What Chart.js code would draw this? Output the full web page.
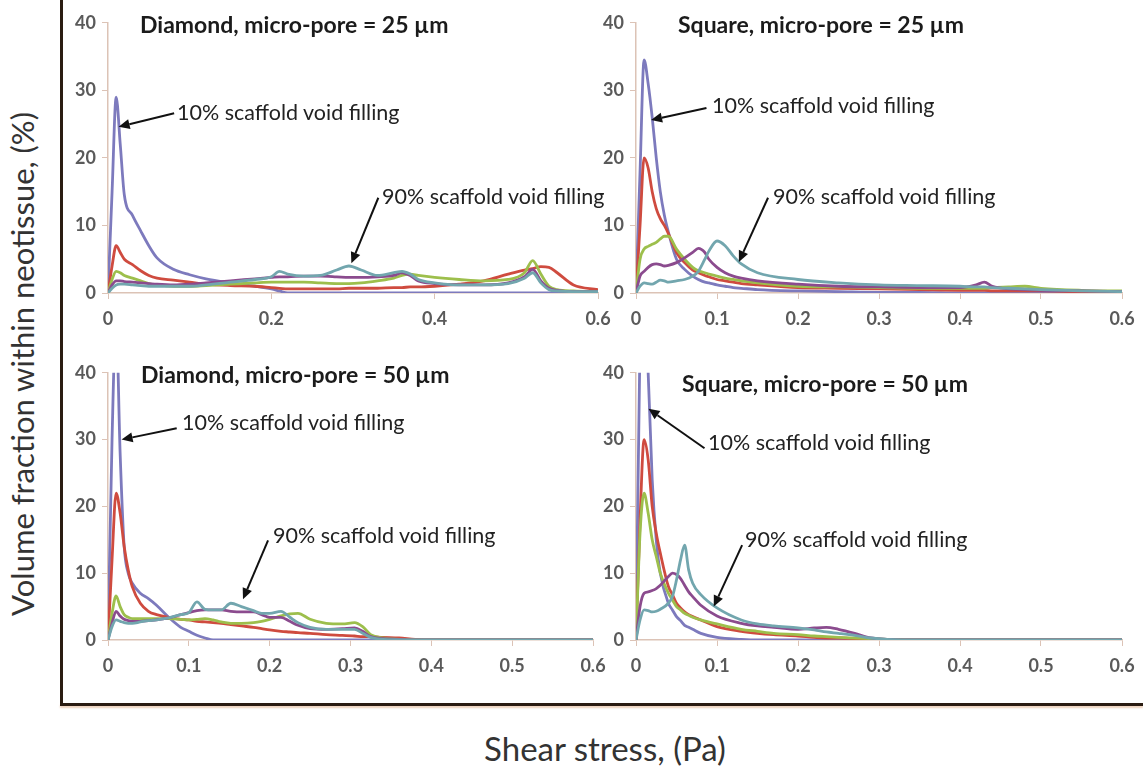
<!DOCTYPE html>
<html>
<head>
<meta charset="utf-8">
<script src="https://cdn.jsdelivr.net/npm/chart.js@4.4.1/dist/chart.umd.min.js"></script>
<style>
  body { margin: 0; background: #fff; }
  #stage { position: relative; width: 1143px; height: 770px; overflow: hidden; font-family: Lato, 'Open Sans', sans-serif; }
  .panel { position: absolute; }
  .ttl { position: absolute; font-weight: bold; font-size: 23px; color: #1b1b1b; white-space: nowrap; line-height: 1; transform: translateY(-50%); }
  .note { position: absolute; font-size: 21.5px; color: #222; white-space: nowrap; line-height: 1; transform: translateY(-50%); }
  .frameV { position: absolute; left: 60px; top: 0; width: 3px; height: 706px; background: #2a1c12; }
  .frameH { position: absolute; left: 60px; top: 703px; width: 1083px; height: 3px; background: #2a1c12; box-shadow: 0 2px 2px rgba(200,120,60,0.35); }
  .ytitle { position: absolute; left: 22px; top: 364px; line-height: 1; transform: translate(-50%, -50%) rotate(-90deg); font-size: 31px; color: #333; white-space: nowrap; }
  .xtitle { position: absolute; left: 605px; top: 748px; line-height: 1; transform: translate(-50%, -50%); font-size: 33px; color: #333; white-space: nowrap; }
</style>
</head>
<body>
<div id="stage">
  <div class="frameV"></div>
  <div class="frameH"></div>
  <div class="ytitle">Volume fraction within neotissue, (%)</div>
  <div class="xtitle">Shear stress, (Pa)</div>
</div>
<script>
// series: 10%, 30%, 50%, 70%, 90% scaffold void filling
const seriesColors = ['#7d7abd', '#cf4b3f', '#9dbf4c', '#8b4b8e', '#72a6ae'];
const yTicks = [0, 10, 20, 30, 40];

// --- Diamond, micro-pore = 25 um ---
const dia25X     = [0, 0.005, 0.01, 0.015, 0.02, 0.03, 0.04, 0.05, 0.06, 0.08, 0.1, 0.12, 0.15, 0.18, 0.2, 0.21, 0.22, 0.24, 0.26, 0.28, 0.295, 0.31, 0.33, 0.35, 0.36, 0.37, 0.38, 0.4, 0.43, 0.46, 0.49, 0.51, 0.52, 0.53, 0.54, 0.55, 0.57, 0.6];
const dia25Fill10 = [0, 15, 29, 22, 14.5, 11.5, 9.2, 7, 5.2, 3.5, 2.7, 2.1, 1.5, 1.0, 0.6, 0.3, 0, 0, 0, 0, 0, 0, 0, 0, 0, 0, 0, 0, 0, 0, 0, 0, 0, 0, 0, 0, 0, 0];
const dia25Fill30 = [0, 4, 7, 6, 5, 4.2, 3.3, 2.6, 2.2, 1.9, 1.6, 1.3, 1.1, 1.0, 0.8, 0.7, 0.6, 0.6, 0.6, 0.6, 0.7, 0.7, 0.7, 0.8, 0.8, 0.9, 0.9, 1.0, 1.3, 1.8, 2.8, 3.4, 3.6, 3.9, 3.8, 3.0, 1.2, 0.5];
const dia25Fill50 = [0, 2, 3.2, 3, 2.6, 2.2, 1.8, 1.4, 1.2, 1.0, 1.0, 1.1, 1.3, 1.5, 1.6, 1.6, 1.6, 1.6, 1.5, 1.4, 1.4, 1.5, 1.8, 2.2, 2.6, 2.8, 2.6, 2.3, 2.0, 1.8, 2.0, 3.0, 4.8, 2.8, 1.0, 0.5, 0.3, 0.2];
const dia25Fill70 = [0, 1.2, 1.8, 1.8, 1.7, 1.6, 1.5, 1.4, 1.3, 1.2, 1.3, 1.5, 1.8, 2.1, 2.3, 2.4, 2.4, 2.5, 2.5, 2.4, 2.3, 2.3, 2.4, 2.6, 3.0, 2.6, 1.8, 1.4, 1.2, 1.2, 1.5, 2.4, 3.5, 1.8, 0.7, 0.4, 0.2, 0.2];
const dia25Fill90 = [0, 0.7, 1.2, 1.3, 1.3, 1.2, 1.1, 1.0, 1.0, 1.0, 1.0, 1.2, 1.6, 2.0, 2.4, 3.2, 2.8, 2.5, 2.6, 3.4, 4.0, 3.4, 2.6, 3.0, 3.2, 2.8, 2.0, 1.5, 1.2, 1.2, 1.4, 2.2, 3.0, 1.5, 0.5, 0.3, 0.2, 0.2];

// --- Square, micro-pore = 25 um ---
const sq25X      = [0, 0.005, 0.01, 0.015, 0.02, 0.025, 0.03, 0.035, 0.04, 0.05, 0.06, 0.07, 0.077, 0.085, 0.09, 0.1, 0.11, 0.12, 0.13, 0.15, 0.2, 0.25, 0.3, 0.35, 0.4, 0.42, 0.43, 0.44, 0.46, 0.48, 0.5, 0.55, 0.6];
const sq25Fill10 = [0, 18, 34.5, 31, 26, 20, 15, 11.5, 9, 5, 3.5, 2.5, 2, 1.6, 1.5, 1.2, 1.0, 0.8, 0.7, 0.5, 0.3, 0.2, 0.1, 0.1, 0, 0, 0, 0, 0, 0, 0, 0, 0];
const sq25Fill30 = [0, 10, 20, 18.5, 15, 12.5, 11, 10, 8.8, 6, 4.5, 3.4, 3, 2.6, 2.4, 2, 1.8, 1.6, 1.4, 1.2, 0.8, 0.7, 0.6, 0.5, 0.4, 0.4, 0.4, 0.3, 0.3, 0.3, 0.3, 0.2, 0.2];
const sq25Fill50 = [0, 5, 6.5, 6.9, 7.2, 7.5, 8, 8.4, 8.4, 6.5, 5, 3.8, 3.3, 3, 2.8, 2.5, 2.2, 2, 1.8, 1.5, 1.0, 0.9, 0.8, 0.7, 0.7, 0.7, 0.7, 0.8, 0.9, 1.0, 0.7, 0.4, 0.3];
const sq25Fill70 = [0, 2.5, 3.2, 3.8, 4.2, 4.3, 4.2, 4.0, 4.1, 4.5, 5.2, 6.0, 6.6, 6.0, 5, 3.8, 3.0, 2.5, 2.2, 1.8, 1.3, 1.0, 0.9, 0.8, 0.8, 1.2, 1.6, 1.0, 0.6, 0.5, 0.4, 0.3, 0.2];
const sq25Fill90 = [0, 1.0, 1.5, 1.4, 1.3, 1.6, 1.9, 1.8, 1.6, 1.8, 2.0, 2.5, 3.2, 5, 6.2, 7.7, 7.0, 5.5, 4.3, 3.0, 2.0, 1.5, 1.2, 1.1, 1.0, 0.9, 0.9, 0.8, 0.7, 0.6, 0.5, 0.3, 0.2];

// --- Diamond, micro-pore = 50 um ---
const dia50X      = [0, 0.005, 0.01, 0.015, 0.02, 0.025, 0.03, 0.04, 0.05, 0.06, 0.075, 0.09, 0.1, 0.11, 0.12, 0.13, 0.14, 0.152, 0.165, 0.18, 0.19, 0.2, 0.214, 0.225, 0.235, 0.25, 0.27, 0.29, 0.305, 0.315, 0.325, 0.34, 0.36, 0.38, 0.4, 0.6];
const dia50Fill10 = [0, 30, 48, 28, 14, 10, 8.5, 7, 6.2, 5.2, 3.4, 1.9, 1.3, 0.7, 0.3, 0, 0, 0, 0, 0, 0, 0, 0, 0, 0, 0, 0, 0, 0, 0, 0, 0, 0, 0, 0, 0];
const dia50Fill30 = [0, 12, 22, 19, 14, 10.5, 8, 5.5, 4.3, 3.8, 3.4, 3.1, 3.0, 2.8, 2.7, 2.6, 2.5, 2.3, 2.1, 1.9, 1.7, 1.5, 1.3, 1.2, 1.1, 1.0, 0.8, 0.7, 0.6, 0.5, 0.5, 0.4, 0.3, 0.1, 0, 0];
const dia50Fill50 = [0, 4, 6.6, 5, 3.8, 3.4, 3.2, 3.2, 3.2, 3.2, 3.2, 3.1, 3.0, 3.1, 3.2, 3.0, 2.7, 2.5, 2.5, 2.6, 2.8, 3.1, 3.6, 3.9, 4.0, 3.1, 2.5, 2.4, 2.6, 2.0, 0.8, 0.3, 0.1, 0, 0, 0];
const dia50Fill70 = [0, 2.5, 4.3, 3.6, 3.1, 2.9, 2.8, 2.8, 2.9, 3.0, 3.3, 3.8, 4.1, 4.4, 4.5, 4.5, 4.5, 4.3, 4.2, 4.2, 3.8, 3.4, 3.4, 2.8, 2.2, 1.7, 1.6, 1.7, 1.8, 1.3, 0.5, 0.2, 0.1, 0, 0, 0];
const dia50Fill90 = [0, 2, 3, 2.8, 2.6, 2.5, 2.5, 2.7, 2.9, 3.0, 3.3, 3.8, 4.1, 5.7, 4.6, 4.5, 4.5, 5.5, 5.0, 4.4, 4.0, 4.0, 4.3, 3.4, 2.6, 1.9, 1.6, 1.6, 1.6, 1.0, 0.4, 0.1, 0.05, 0, 0, 0];

// --- Square, micro-pore = 50 um ---
const sq50X      = [0, 0.005, 0.01, 0.015, 0.02, 0.025, 0.03, 0.04, 0.045, 0.05, 0.055, 0.06, 0.065, 0.07, 0.08, 0.1, 0.13, 0.15, 0.17, 0.2, 0.22, 0.235, 0.25, 0.27, 0.29, 0.31, 0.35, 0.6];
const sq50Fill10 = [0, 45, 62, 40, 24, 15, 10, 5.5, 4.5, 3.5, 2.9, 2.2, 1.9, 1.6, 1.0, 0.4, 0.1, 0, 0, 0, 0, 0, 0, 0, 0, 0, 0, 0];
const sq50Fill30 = [0, 18, 30, 27, 20, 16, 13, 8, 6.8, 5.5, 4.8, 4.2, 3.8, 3.5, 3.0, 2.0, 1.3, 1.0, 0.8, 0.6, 0.4, 0.3, 0.3, 0.2, 0.1, 0.05, 0, 0];
const sq50Fill50 = [0, 16, 22, 19, 15, 12.5, 10, 7, 6, 5, 4.5, 4, 3.7, 3.4, 3.0, 2.4, 1.6, 1.3, 1.0, 0.8, 0.6, 0.5, 0.4, 0.3, 0.2, 0.1, 0, 0];
const sq50Fill70 = [0, 5, 7, 7.2, 7.4, 7.7, 8.2, 9.5, 10, 9.8, 9.2, 8.2, 7.2, 6.5, 5.2, 3.6, 2.5, 2.1, 1.9, 1.6, 1.8, 1.9, 1.6, 1.0, 0.3, 0.1, 0, 0];
const sq50Fill90 = [0, 3, 4.5, 4.4, 4.2, 4.3, 4.6, 5.5, 6.5, 9, 12, 14.2, 10.5, 8.5, 6.8, 4.8, 3.0, 2.4, 2.1, 1.8, 1.5, 1.2, 1.0, 0.7, 0.3, 0.1, 0, 0];

const panels = [
  { area: { l: 108, t: 18, r: 598, b: 293 }, step: 0.2, x: dia25X,
    ys: [dia25Fill10, dia25Fill30, dia25Fill50, dia25Fill70, dia25Fill90],
    title: 'Diamond, micro-pore = 25 µm', titlePos: [140, 24],
    notes: [ { text: '10% scaffold void filling', pos: [177, 113], from: [0.081, 26.6], to: [0.013, 24.6] },
             { text: '90% scaffold void filling', pos: [382, 197], from: [0.331, 14.1], to: [0.298, 4.4] } ] },
  { area: { l: 636, t: 18, r: 1122, b: 293 }, step: 0.1, x: sq25X,
    ys: [sq25Fill10, sq25Fill30, sq25Fill50, sq25Fill70, sq25Fill90],
    title: 'Square, micro-pore = 25 µm', titlePos: [678, 24],
    notes: [ { text: '10% scaffold void filling', pos: [712, 106], from: [0.087, 27.4], to: [0.0186, 25.6] },
             { text: '90% scaffold void filling', pos: [773, 197], from: [0.163, 14.1], to: [0.127, 4.6] } ] },
  { area: { l: 108, t: 368, r: 593, b: 640 }, step: 0.1, x: dia50X,
    ys: [dia50Fill10, dia50Fill30, dia50Fill50, dia50Fill70, dia50Fill90],
    title: 'Diamond, micro-pore = 50 µm', titlePos: [141, 374],
    notes: [ { text: '10% scaffold void filling', pos: [182, 423], from: [0.085, 31.7], to: [0.0168, 30] },
             { text: '90% scaffold void filling', pos: [273, 536], from: [0.198, 14.9], to: [0.167, 6.1] } ] },
  { area: { l: 636, t: 368, r: 1122, b: 640 }, step: 0.1, x: sq50X,
    ys: [sq50Fill10, sq50Fill30, sq50Fill50, sq50Fill70, sq50Fill90],
    title: 'Square, micro-pore = 50 µm', titlePos: [682, 383],
    notes: [ { text: '10% scaffold void filling', pos: [708, 443], from: [0.0846, 28.7], to: [0.0154, 34.6] },
             { text: '90% scaffold void filling', pos: [745, 540], from: [0.131, 14.2], to: [0.096, 5.0] } ] }
];

const AXIS_W = 48, AXIS_H = 44, PAD_T = 12, PAD_R = 24;

// arrows from the note text to the curves, placed in data units
const arrowPlugin = {
  id: 'arrows',
  afterDatasetsDraw(chart, args, opts) {
    const ctx = chart.ctx, sx = chart.scales.x, sy = chart.scales.y;
    ctx.save();
    ctx.strokeStyle = '#111';
    ctx.fillStyle = '#111';
    ctx.lineWidth = 2;
    (opts.list || []).forEach(a => {
      const x1 = sx.getPixelForValue(a.from[0]), y1 = sy.getPixelForValue(a.from[1]);
      const x2 = sx.getPixelForValue(a.to[0]), y2 = sy.getPixelForValue(a.to[1]);
      const ang = Math.atan2(y2 - y1, x2 - x1);
      const hl = 11, hw = 5;
      const bx = x2 - hl * Math.cos(ang), by = y2 - hl * Math.sin(ang);
      ctx.beginPath();
      ctx.moveTo(x1, y1);
      ctx.lineTo(bx, by);
      ctx.stroke();
      ctx.beginPath();
      ctx.moveTo(x2, y2);
      ctx.lineTo(bx + hw * Math.sin(ang), by - hw * Math.cos(ang));
      ctx.lineTo(bx - hw * Math.sin(ang), by + hw * Math.cos(ang));
      ctx.closePath();
      ctx.fill();
    });
    ctx.restore();
  }
};

Chart.defaults.font.family = 'Lato';
Chart.defaults.animation = false;

const stage = document.getElementById('stage');

panels.forEach((p, i) => {
  const a = p.area;
  const box = document.createElement('div');
  box.className = 'panel';
  const w = a.r - a.l + AXIS_W + PAD_R, h = a.b - a.t + PAD_T + AXIS_H;
  box.style.cssText = `left:${a.l - AXIS_W}px;top:${a.t - PAD_T}px;width:${w}px;height:${h}px;`;
  const cv = document.createElement('canvas');
  box.appendChild(cv);
  stage.appendChild(box);

  const datasets = p.ys.map((ys, k) => ({
    label: ['10%', '30%', '50%', '70%', '90%'][k] + ' scaffold void filling',
    data: p.x.map((x, j) => ({ x: x, y: ys[j] })),
    borderColor: seriesColors[k],
    borderWidth: 2.8,
    pointRadius: 0,
    fill: false,
    cubicInterpolationMode: 'monotone',
    order: 5 - k
  }));

  const axisCol = '#dcc3b6';
  new Chart(cv, {
    type: 'line',
    data: { datasets },
    plugins: [arrowPlugin],
    options: {
      responsive: true,
      maintainAspectRatio: false,
      layout: { padding: { top: PAD_T, right: PAD_R, left: 0, bottom: 0 } },
      plugins: {
        legend: { display: false },
        tooltip: { enabled: false },
        arrows: { list: p.notes }
      },
      scales: {
        x: {
          type: 'linear', min: 0, max: 0.6,
          afterFit: s => { s.height = AXIS_H; },
          ticks: { stepSize: p.step, color: '#5a5a5a', font: { size: 18, weight: 'bold' }, padding: 9,
                   maxRotation: 0, callback: v => v === 0 ? '0' : v.toFixed(1) },
          grid: { drawOnChartArea: false, drawTicks: true, tickLength: 6, color: axisCol },
          border: { display: true, color: axisCol, width: 1.5 }
        },
        y: {
          type: 'linear', min: 0, max: 40,
          afterFit: s => { s.width = AXIS_W; },
          afterBuildTicks: s => { s.ticks = yTicks.map(v => ({ value: v })); },
          ticks: { color: '#5a5a5a', font: { size: 18, weight: 'bold' }, padding: 6 },
          grid: { drawOnChartArea: false, drawTicks: true, tickLength: 6, color: axisCol },
          border: { display: true, color: axisCol, width: 1.5 }
        }
      }
    }
  });

  const t = document.createElement('div');
  t.className = 'ttl';
  t.textContent = p.title;
  t.style.left = p.titlePos[0] + 'px';
  t.style.top = p.titlePos[1] + 'px';
  stage.appendChild(t);

  p.notes.forEach(n => {
    const d = document.createElement('div');
    d.className = 'note';
    d.textContent = n.text;
    d.style.left = n.pos[0] + 'px';
    d.style.top = n.pos[1] + 'px';
    stage.appendChild(d);
  });
});
</script>
</body>
</html>
